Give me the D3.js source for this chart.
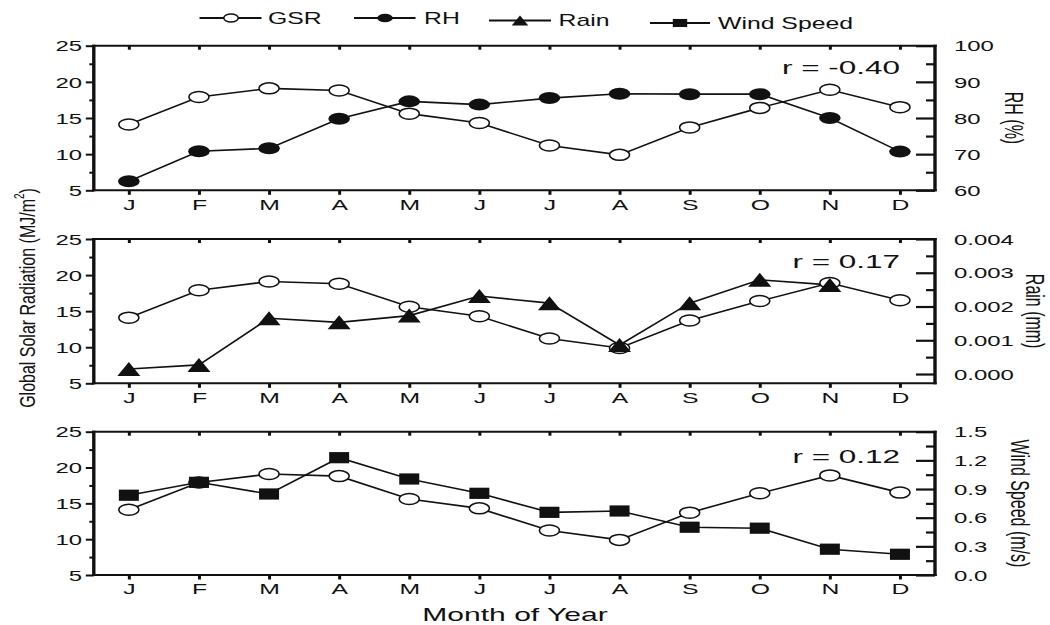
<!DOCTYPE html>
<html>
<head>
<meta charset="utf-8">
<script src="https://cdn.jsdelivr.net/npm/d3@7"></script>
<style>
  body { margin: 0; background: #fff; }
  svg { display: block; font-family: "Liberation Sans", Arial, sans-serif; }
</style>
</head>
<body>
<svg id="chart" width="1050" height="625"></svg>
<script>
// Monthly climate data
const months = ["J", "F", "M", "A", "M", "J", "J", "A", "S", "O", "N", "D"];
const gsr  = [14.1, 17.9, 19.1, 18.8, 15.6, 14.3, 11.2, 9.9, 13.7, 16.4, 18.9, 16.5];          // MJ/m²
const rh   = [62.5, 70.8, 71.6, 79.8, 84.6, 83.7, 85.5, 86.7, 86.6, 86.6, 80.0, 70.7];          // %
const rain = [0.00015, 0.00027, 0.00165, 0.00153, 0.00173, 0.00231, 0.00210, 0.00086,
              0.00210, 0.00279, 0.00264];                                                     // mm (Jan–Nov)
const wind = [0.835, 0.97, 0.848, 1.228, 1.005, 0.855, 0.656, 0.67, 0.50, 0.49, 0.27, 0.217];  // m/s
const rLabels = ["r = -0.40", "r = 0.17", "r = 0.12"];
const gsrTicks  = [5, 10, 15, 20, 25];
const gsrMinor  = [7.5, 12.5, 17.5, 22.5];
const rhTicks   = [60, 70, 80, 90, 100];
const rhMinor   = [65, 75, 85, 95];
const rainTicks = [0, 0.001, 0.002, 0.003, 0.004];
const rainMinor = [0.0005, 0.0015, 0.0025, 0.0035];
const windTicks = [0, 0.3, 0.6, 0.9, 1.2, 1.5];
const windMinor = [0.15, 0.45, 0.75, 1.05, 1.35];
const legendNames = ["GSR", "RH", "Rain", "Wind Speed"];

const SX = 1.65;               // horizontal stretch of the lettering
const INK = "#111";
const svg = d3.select("#chart");

const L = 93.8, R = 935;
const x = d3.scalePoint().domain(d3.range(12)).range([L, R]).padding(0.5);

function stext(g, px, py, str, size, anchor, sx) {
  return g.append("text")
    .attr("transform", `translate(${px},${py}) scale(${sx || SX},1)`)
    .attr("font-size", size)
    .attr("text-anchor", anchor || "start")
    .attr("fill", INK)
    .text(str);
}

// marker painters
const markers = {
  open: (g, cx, cy, s = 1) => g.append("ellipse").attr("cx", cx).attr("cy", cy)
      .attr("rx", 10 * s).attr("ry", 5.5 * s).attr("fill", "#fff").attr("stroke", INK).attr("stroke-width", 1.5),
  dot: (g, cx, cy, s = 1) => g.append("ellipse").attr("cx", cx).attr("cy", cy)
      .attr("rx", 10.8 * s).attr("ry", 6 * s).attr("fill", INK),
  tri: (g, cx, cy, s = 1) => g.append("path")
      .attr("d", `M${cx - 11.5 * s},${cy + 7 * s}L${cx},${cy - 7 * s}L${cx + 11.5 * s},${cy + 7 * s}Z`)
      .attr("fill", INK),
  sq: (g, cx, cy, s = 1) => g.append("rect").attr("x", cx - 10 * s).attr("y", cy - 5.6 * s)
      .attr("width", 20 * s).attr("height", 11.2 * s).attr("fill", INK)
};

const panels = [
  { top: 45.7, bottom: 190.3, other: rh, marker: "dot", rDom: [60, 100], rTicks: rhTicks, rMinor: rhMinor,
    fmt: d3.format("d"), title: "RH (%)", titleX: 1014, r: rLabels[0], rY: 74.3 },
  { top: 239, bottom: 383.3, other: rain, marker: "tri", rDom: [-0.000275, 0.004], rTicks: rainTicks, rMinor: rainMinor,
    fmt: d3.format(".3f"), title: "Rain (mm)", titleX: 1035, r: rLabels[1], rY: 268.3 },
  { top: 431.7, bottom: 575, other: wind, marker: "sq", rDom: [0, 1.5], rTicks: windTicks, rMinor: windMinor,
    fmt: d3.format(".1f"), title: "Wind Speed (m/s)", titleX: 1020, r: rLabels[2], rY: 463 }
];

function styleAxis(g) {
  g.attr("font-family", null).attr("font-size", null);
  g.select(".domain").remove();
  g.selectAll(".tick line").attr("stroke", INK);
}

panels.forEach(p => {
  const g = svg.append("g");
  const yL = d3.scaleLinear().domain([5, 25]).range([p.bottom, p.top]);
  const yR = d3.scaleLinear().domain(p.rDom).range([p.bottom, p.top]);

  // left axis: minor and major ticks pointing out
  g.append("g").attr("transform", `translate(${L},0)`)
    .call(d3.axisLeft(yL).tickValues(gsrMinor).tickSize(4.5).tickFormat(""))
    .call(styleAxis).selectAll(".tick line").attr("stroke-width", 2);
  const la = g.append("g").attr("transform", `translate(${L},0)`)
    .call(d3.axisLeft(yL).tickValues(gsrTicks).tickSize(8))
    .call(styleAxis);
  la.selectAll(".tick line").attr("stroke-width", 2);
  la.selectAll(".tick text")
    .attr("x", null).attr("dy", null)
    .attr("transform", `translate(-11.8,5.2) scale(${SX},1)`)
    .attr("font-size", 14.5).attr("fill", INK).attr("text-anchor", "end");

  // right axis: ticks pointing in
  g.append("g").attr("transform", `translate(${R},0)`)
    .call(d3.axisRight(yR).tickValues(p.rMinor).tickSize(-9).tickFormat(""))
    .call(styleAxis).selectAll(".tick line").attr("stroke-width", 2.2);
  const ra = g.append("g").attr("transform", `translate(${R},0)`)
    .call(d3.axisRight(yR).tickValues(p.rTicks).tickSize(-19).tickFormat(p.fmt))
    .call(styleAxis);
  ra.selectAll(".tick line").attr("stroke-width", 2.2);
  ra.selectAll(".tick text")
    .attr("x", null).attr("dy", null)
    .attr("transform", `translate(19,5.2) scale(${SX},1)`)
    .attr("font-size", 14.5).attr("fill", INK).attr("text-anchor", "start");

  // month axis below, small ticks along the top edge
  const ba = g.append("g").attr("transform", `translate(0,${p.bottom})`)
    .call(d3.axisBottom(x).tickSize(4.5).tickFormat(i => months[i]))
    .call(styleAxis);
  ba.selectAll(".tick line").attr("stroke-width", 3);
  ba.selectAll(".tick text")
    .attr("y", null).attr("dy", null)
    .attr("transform", `translate(0,19.4) scale(${SX},1)`)
    .attr("font-size", 15).attr("fill", INK);
  g.append("g").attr("transform", `translate(0,${p.top})`)
    .call(d3.axisTop(x).tickSize(-4).tickFormat(""))
    .call(styleAxis).selectAll(".tick line").attr("stroke-width", 3);

  // frame
  g.append("line").attr("x1", L - 1.7).attr("x2", R + 1.7).attr("y1", p.top).attr("y2", p.top)
    .attr("stroke", INK).attr("stroke-width", 2);
  g.append("line").attr("x1", L - 1.7).attr("x2", R + 1.7).attr("y1", p.bottom).attr("y2", p.bottom)
    .attr("stroke", INK).attr("stroke-width", 2);
  g.append("line").attr("x1", L).attr("x2", L).attr("y1", p.top - 1).attr("y2", p.bottom + 1)
    .attr("stroke", INK).attr("stroke-width", 3.4);
  g.append("line").attr("x1", R).attr("x2", R).attr("y1", p.top - 1).attr("y2", p.bottom + 1)
    .attr("stroke", INK).attr("stroke-width", 3.4);

  // GSR series, then the companion series on top
  const lineL = d3.line().x((d, i) => x(i)).y(d => yL(d));
  const lineR = d3.line().x((d, i) => x(i)).y(d => yR(d));
  g.append("path").attr("d", lineL(gsr)).attr("fill", "none").attr("stroke", INK).attr("stroke-width", 1.6);
  g.append("path").attr("d", lineR(p.other)).attr("fill", "none").attr("stroke", INK).attr("stroke-width", 1.6);
  gsr.forEach((v, i) => markers.open(g, x(i), yL(v)));
  p.other.forEach((v, i) => markers[p.marker](g, x(i), yR(v)));

  // correlation coefficient
  stext(g, 900, p.rY, p.r, 18.5, "end", 1.7);

  // right axis title
  g.append("text")
    .attr("transform", `translate(${p.titleX},${(p.top + p.bottom) / 2}) scale(1.6,1) rotate(90)`)
    .attr("text-anchor", "middle").attr("dy", "0.35em")
    .attr("font-size", 16).attr("fill", INK).text(p.title);
});

// shared left title
const lt = svg.append("text")
  .attr("transform", `translate(27,298) scale(1.4,1) rotate(-90)`)
  .attr("text-anchor", "middle").attr("dy", "0.35em")
  .attr("font-size", 16).attr("fill", INK);
lt.append("tspan").text("Global Solar Radiation (MJ/m");
lt.append("tspan").attr("font-size", 10).attr("dy", "-0.8em").text("2");
lt.append("tspan").attr("dy", "0.5em").text(")");

// shared x title
stext(svg, 515, 621, "Month of Year", 18, "middle", 1.67);

// legend
const leg = [
  { name: legendNames[0], m: "open", x0: 199.5, x1: 261.5, cx: 231, tx: 268, y: 18 },
  { name: legendNames[1], m: "dot",  x0: 354,   x1: 415.5, cx: 385, tx: 424, y: 18 },
  { name: legendNames[2], m: "tri",  x0: 489,   x1: 551,   cx: 520, tx: 558.6, y: 20.5 },
  { name: legendNames[3], m: "sq",   x0: 650,   x1: 710,   cx: 680, tx: 718, y: 23 }
];
const lg = svg.append("g");
leg.forEach(d => {
  lg.append("line").attr("x1", d.x0).attr("x2", d.x1).attr("y1", d.y).attr("y2", d.y)
    .attr("stroke", INK).attr("stroke-width", 2);
  markers[d.m](lg, d.cx, d.y, 0.72);
  stext(lg, d.tx, d.y + 5.8, d.name, 16, "start", 1.55);
});
</script>
</body>
</html>
